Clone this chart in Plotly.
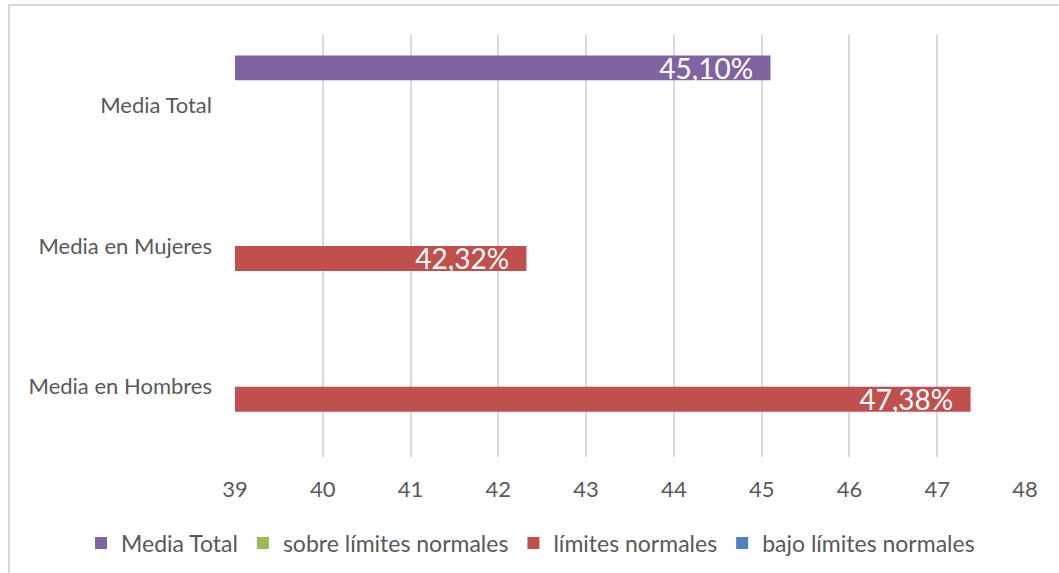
import plotly.graph_objects as go

categories = ["Media en Hombres", "Media en Mujeres", "Media Total"]
series_names = ["Media Total", "sobre límites normales", "límites normales", "bajo límites normales"]
media_total = [None, None, 45.10]
sobre_limites = [None, None, None]
limites = [47.38, 42.32, None]
bajo_limites = [None, None, None]
colors = ["#8064A2", "#9BBB59", "#C0504D", "#4F81BD"]
x_ticks = [39, 40, 41, 42, 43, 44, 45, 46, 47, 48]

FONT = "Lato, Carlito, Calibri, sans-serif"
GRAY = "#595959"
PAD = "\u00a0" * 2

def fmt(vals):
    return [("" if v is None else f"{v:.2f}%".replace(".", ",") + PAD) for v in vals]

data = [media_total, sobre_limites, limites, bajo_limites]
fig = go.Figure()
# add in reverse so that "Media Total" sits at the top of each group
for name, vals, col in reversed(list(zip(series_names, data, colors))):
    fig.add_trace(go.Bar(
        y=categories, x=vals, orientation="h", name=name,
        marker=dict(color=col, line=dict(width=0)),
        text=fmt(vals), textposition="inside", insidetextanchor="end",
        constraintext="none",
        textfont=dict(color="white", size=28, family=FONT),
        cliponaxis=False,
    ))

fig.update_layout(
    width=1059, height=573,
    margin=dict(l=235, r=34, t=35, b=116, autoexpand=False),
    paper_bgcolor="white", plot_bgcolor="white",
    barmode="group", bargap=0.29, bargroupgap=0,
    font=dict(family=FONT, color=GRAY, size=22),
    showlegend=True,
    legend=dict(orientation="h", traceorder="reversed",
                x=(81 - 235) / 790, xanchor="left",
                y=(457 - 543) / 422, yanchor="middle",
                font=dict(size=23, color=GRAY), itemwidth=30),
    xaxis=dict(range=[39, 48], tickvals=x_ticks, showgrid=True, gridcolor="#D9D9D9",
               gridwidth=2, zeroline=False, showline=False, ticks="",
               tickfont=dict(size=22, color=GRAY), ticklabelstandoff=17),
    yaxis=dict(categoryorder="array", categoryarray=categories, showgrid=False,
               showline=False, ticks="", tickfont=dict(size=22, color=GRAY),
               ticklabelstandoff=22),
    shapes=[dict(type="rect", xref="paper", yref="paper",
                 x0=(9 - 235) / 790, x1=(1070 - 235) / 790,
                 y0=-0.5, y1=(457 - 5) / 422,
                 line=dict(color="#D9D9D9", width=2), fillcolor="rgba(0,0,0,0)",
                 layer="below")],
)
fig.write_html("out.html", config={"displayModeBar": False},
               post_script="document.body.style.margin='0';")
